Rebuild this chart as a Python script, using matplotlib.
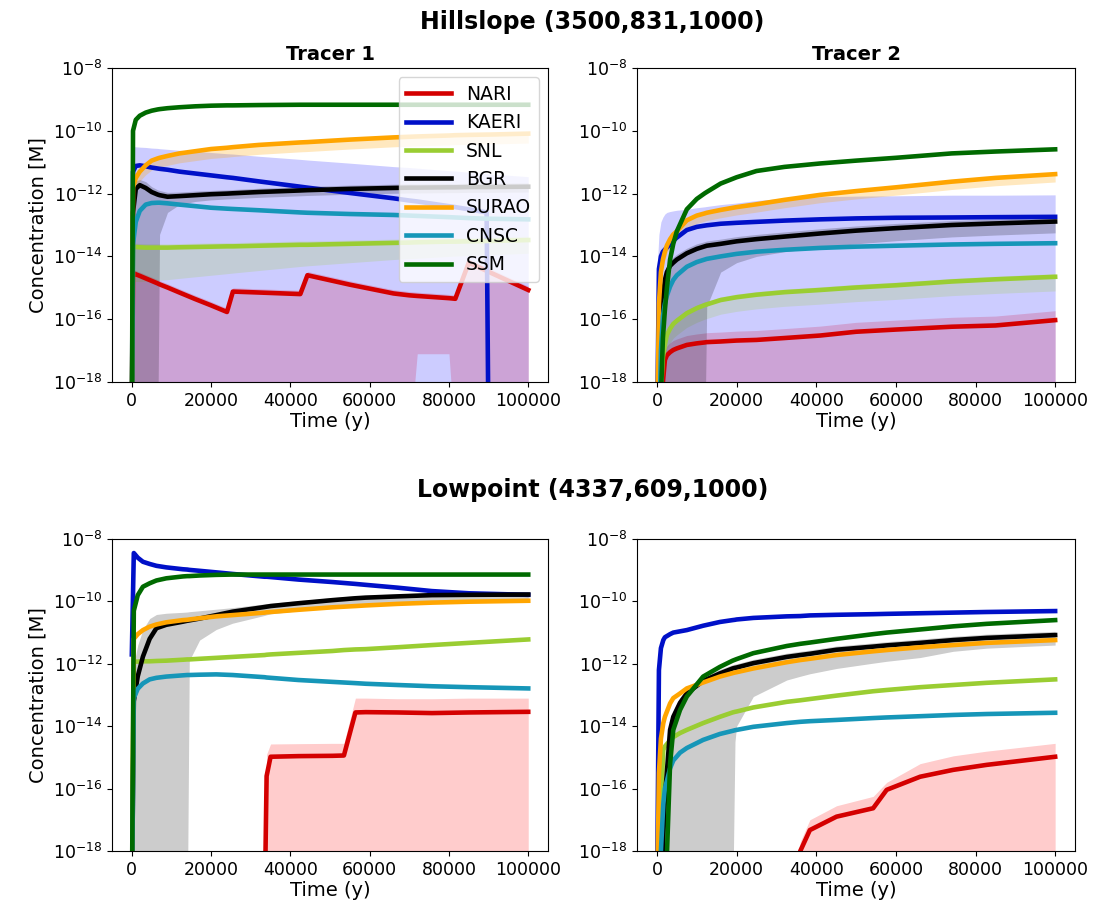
import numpy as np
import matplotlib.pyplot as plt
from matplotlib.ticker import NullLocator

# Reihenfolge wie in der Legende
SERIES = ["NARI", "KAERI", "SNL", "BGR", "SURAO", "CNSC", "SSM"]
COLORS = ["#d40000", "#0010c8", "yellowgreen", "black", "orange", "#1696b8", "#006a00"]
BAND_COLORS = ["red", "blue", "yellowgreen", "black", "orange", "#1696b8", "#006a00"]

# Werte als Exponenten (log10 der Konzentration in M), -20 = unterhalb der Achse
FLOOR = -20

# ---------------- Hillslope, Tracer 1 ----------------
hs1_t = [0, 300, 1000, 2000, 3500, 5000, 6500, 7000, 9000, 12000, 16000, 20000, 24000, 25500,
         32000, 42500, 44300, 55000, 66000, 70000, 72000, 80000, 81600, 85000, 89500, 90000, 100000]
hs1_nari = [-20, -14.53, -14.57, -14.62, -14.7, -14.78, -14.86, -14.89, -14.99, -15.15, -15.36, -15.56, -15.77, -15.12,
            -15.15, -15.2, -14.6, -14.9, -15.18, -15.24, -15.26, -15.33, -15.35, -14.2, -14.46, -14.49, -15.07]
hs1_nari_hi = [-14.41, -14.41, -14.45, -14.5, -14.58, -14.66, -14.74, -14.77, -14.87, -15.03, -15.24, -15.44, -15.65, -15.0,
               -15.03, -15.08, -14.48, -14.78, -15.06, -15.12, -15.14, -15.21, -15.23, -14.08, -14.34, -14.37, -14.95]
hs1_nari_lo = [-20, -20, -20, -20, -20, -20, -20, -20, -20, -20, -20, -20, -20, -20,
               -20, -20, -20, -20, -20, -20, -17.1, -17.1, -20, -20, -20, -20, -20]
hs1_kaeri = [-20, -11.3, -11.12, -11.1, -11.13, -11.17, -11.2, -11.21, -11.24, -11.3, -11.36, -11.42, -11.48, -11.5,
             -11.61, -11.78, -11.81, -11.98, -12.15, -12.22, -12.25, -12.4, -12.43, -12.5, -12.6, -20, -20]
hs1_kaeri_hi = [-10.5, -10.5, -10.51, -10.52, -10.53, -10.55, -10.56, -10.57, -10.59, -10.62, -10.65, -10.69, -10.73, -10.74,
                -10.81, -10.91, -10.93, -11.03, -11.14, -11.17, -11.19, -11.27, -11.28, -11.32, -11.36, -11.37, -11.46]
hs1_snl = [-20, -13.7, -13.7, -13.71, -13.72, -13.72, -13.72, -13.72, -13.72, -13.71, -13.7, -13.69, -13.68, -13.68,
           -13.66, -13.63, -13.63, -13.6, -13.57, -13.56, -13.55, -13.53, -13.53, -13.52, -13.51, -13.51, -13.48]
hs1_snl_hi = [-13.6, -13.58, -13.58, -13.59, -13.6, -13.6, -13.6, -13.6, -13.6, -13.59, -13.58, -13.57, -13.56, -13.56,
              -13.54, -13.51, -13.51, -13.48, -13.45, -13.44, -13.43, -13.41, -13.41, -13.4, -13.39, -13.39, -13.36]
hs1_snl_lo = [-14.8, -14.8, -14.8, -14.8, -14.79, -14.78, -14.77, -14.76, -14.74, -14.7, -14.65, -14.6, -14.55, -14.53,
              -14.45, -14.32, -14.3, -14.2, -14.1, -14.07, -14.06, -14.0, -13.99, -13.97, -13.95, -13.95, -13.9]
hs1_bgr = [-20, -12.6, -11.85, -11.73, -11.82, -11.95, -12.03, -12.05, -12.1, -12.08, -12.05, -12.02, -12.0, -11.99,
           -11.95, -11.9, -11.89, -11.85, -11.82, -11.81, -11.81, -11.8, -11.8, -11.79, -11.79, -11.79, -11.78]
hs1_bgr_hi = [-11.9, -11.7, -11.6, -11.55, -11.62, -11.78, -11.88, -11.9, -11.96, -11.95, -11.92, -11.9, -11.88, -11.87,
              -11.83, -11.78, -11.77, -11.73, -11.7, -11.69, -11.69, -11.68, -11.68, -11.67, -11.67, -11.67, -11.66]
hs1_bgr_lo = [-20, -20, -20, -20, -20, -20, -20, -13.3, -12.6, -12.35, -12.25, -12.2, -12.17, -12.16,
              -12.12, -12.07, -12.06, -12.02, -11.99, -11.98, -11.98, -11.97, -11.97, -11.96, -11.96, -11.96, -11.95]
hs1_surao = [-20, -11.8, -11.5, -11.3, -11.1, -10.95, -10.88, -10.86, -10.8, -10.72, -10.65, -10.58, -10.54, -10.52,
             -10.45, -10.37, -10.36, -10.28, -10.21, -10.19, -10.18, -10.15, -10.14, -10.13, -10.12, -10.12, -10.09]
hs1_surao_hi = [-20, -11.75, -11.45, -11.25, -11.05, -10.9, -10.83, -10.81, -10.75, -10.67, -10.6, -10.53, -10.49, -10.47,
                -10.4, -10.32, -10.31, -10.23, -10.16, -10.14, -10.13, -10.1, -10.09, -10.08, -10.07, -10.07, -10.04]
hs1_surao_lo = [-20, -12.1, -11.8, -11.6, -11.4, -11.25, -11.18, -11.16, -11.1, -11.02, -10.95, -10.88, -10.84, -10.82,
                -10.75, -10.67, -10.66, -10.58, -10.51, -10.49, -10.48, -10.45, -10.44, -10.43, -10.42, -10.42, -10.39]
hs1_cnsc = [-20, -13.6, -12.9, -12.55, -12.35, -12.3, -12.29, -12.29, -12.31, -12.35, -12.4, -12.45, -12.48, -12.49,
            -12.53, -12.6, -12.61, -12.65, -12.68, -12.7, -12.71, -12.75, -12.76, -12.78, -12.8, -12.8, -12.82]
hs1_ssm = [-20, -10.0, -9.65, -9.52, -9.42, -9.36, -9.32, -9.31, -9.28, -9.25, -9.22, -9.2, -9.19, -9.19,
           -9.18, -9.17, -9.17, -9.17, -9.17, -9.17, -9.17, -9.17, -9.17, -9.17, -9.17, -9.17, -9.17]

# ---------------- Hillslope, Tracer 2 ----------------
hs2_t = [0, 500, 1000, 1500, 2000, 2500, 3300, 4100, 5000, 7500, 10000, 12000, 12500, 16000,
         20000, 25000, 32000, 41000, 50000, 60000, 74000, 85000, 100000]
hs2_nari = [-20, -20, -20, -18.0, -17.3, -17.15, -17.05, -16.98, -16.93, -16.82, -16.77, -16.74, -16.73, -16.71,
            -16.68, -16.66, -16.6, -16.52, -16.4, -16.33, -16.24, -16.2, -16.03]
hs2_nari_hi = [-20, -20, -20, -17.7, -17.0, -16.85, -16.75, -16.68, -16.63, -16.52, -16.47, -16.44, -16.43, -16.41,
               -16.38, -16.36, -16.3, -16.22, -16.1, -16.03, -15.94, -15.9, -15.73]
hs2_kaeri = [-20, -14.4, -14.0, -13.85, -13.78, -13.72, -13.62, -13.5, -13.4, -13.16, -13.06, -13.02, -13.01, -12.96,
             -12.93, -12.9, -12.86, -12.82, -12.79, -12.77, -12.76, -12.75, -12.74]
hs2_kaeri_hi = [-14.5, -13.3, -12.9, -12.75, -12.65, -12.6, -12.57, -12.55, -12.53, -12.5, -12.45, -12.42, -12.41, -12.35,
                -12.3, -12.22, -12.15, -12.1, -12.08, -12.07, -12.05, -12.05, -12.04]
hs2_snl = [-20, -20, -18.3, -17.2, -16.8, -16.5, -16.3, -16.15, -16.05, -15.81, -15.65, -15.55, -15.53, -15.39,
           -15.3, -15.22, -15.14, -15.07, -14.99, -14.92, -14.8, -14.73, -14.65]
hs2_snl_hi = [-20, -20, -18.2, -17.1, -16.7, -16.4, -16.2, -16.05, -15.95, -15.71, -15.55, -15.45, -15.43, -15.29,
              -15.2, -15.12, -15.04, -14.97, -14.89, -14.82, -14.7, -14.63, -14.55]
hs2_snl_lo = [-20, -20, -18.75, -17.65, -17.25, -16.95, -16.75, -16.6, -16.5, -16.26, -16.1, -16.0, -15.98, -15.84,
              -15.75, -15.67, -15.59, -15.52, -15.44, -15.37, -15.25, -15.18, -15.1]
hs2_bgr = [-20, -20, -17.0, -15.3, -14.75, -14.5, -14.3, -14.2, -14.1, -13.9, -13.76, -13.68, -13.66, -13.6,
           -13.52, -13.45, -13.37, -13.27, -13.18, -13.1, -13.0, -12.95, -12.89]
hs2_bgr_hi = [-20, -20, -16.5, -14.9, -14.5, -14.3, -14.12, -14.02, -13.93, -13.74, -13.6, -13.53, -13.51, -13.45,
              -13.37, -13.3, -13.22, -13.12, -13.03, -12.95, -12.86, -12.81, -12.75]
hs2_bgr_lo = [-20, -20, -20, -20, -20, -20, -20, -20, -20, -20, -20, -20, -15.6, -14.5,
              -14.2, -14.0, -13.85, -13.72, -13.6, -13.5, -13.38, -13.32, -13.25]
hs2_surao = [-20, -15.5, -14.5, -14.1, -13.85, -13.65, -13.45, -13.3, -13.2, -12.85, -12.7, -12.63, -12.61, -12.52,
             -12.43, -12.34, -12.2, -12.04, -11.92, -11.8, -11.62, -11.5, -11.38]
hs2_surao_hi = [-20, -15.45, -14.45, -14.05, -13.8, -13.6, -13.4, -13.25, -13.15, -12.8, -12.65, -12.58, -12.56, -12.47,
                -12.38, -12.29, -12.15, -11.99, -11.87, -11.75, -11.57, -11.45, -11.33]
hs2_surao_lo = [-20, -15.75, -14.75, -14.35, -14.1, -13.9, -13.7, -13.55, -13.45, -13.1, -12.95, -12.88, -12.86, -12.77,
                -12.68, -12.59, -12.45, -12.29, -12.17, -12.05, -11.87, -11.75, -11.63]
hs2_cnsc = [-20, -20, -17.0, -15.9, -15.5, -15.25, -14.96, -14.75, -14.6, -14.33, -14.18, -14.1, -14.08, -14.0,
            -13.92, -13.85, -13.79, -13.73, -13.69, -13.66, -13.62, -13.6, -13.58]
hs2_ssm = [-20, -20, -18.5, -16.6, -15.7, -15.0, -14.1, -13.6, -13.2, -12.5, -12.17, -11.99, -11.95, -11.68,
           -11.48, -11.28, -11.15, -11.04, -10.95, -10.86, -10.72, -10.66, -10.59]

# ---------------- Lowpoint, Tracer 1 ----------------
lp1_t = [0, 500, 1500, 2800, 4500, 6200, 8700, 12900, 14000, 14500, 17100, 21300, 25400,
         33500, 34000, 35000, 42000, 50600, 53500, 56400, 59000, 67000, 75700, 85000, 100000]
lp1_nari = [-20, -20, -20, -20, -20, -20, -20, -20, -20, -20, -20, -20, -20,
            -20, -15.6, -14.98, -14.96, -14.95, -14.94, -13.56, -13.55, -13.56, -13.58, -13.56, -13.54]
lp1_nari_hi = [-20, -20, -20, -20, -20, -20, -20, -20, -20, -20, -20, -20, -20,
               -20, -14.9, -14.57, -14.56, -14.55, -14.55, -13.1, -13.1, -13.12, -13.12, -13.1, -13.1]
lp1_kaeri = [-11.7, -8.45, -8.6, -8.73, -8.8, -8.86, -8.91, -8.97, -8.98, -8.99, -9.02, -9.07, -9.12,
             -9.21, -9.21, -9.22, -9.3, -9.38, -9.41, -9.44, -9.47, -9.56, -9.67, -9.74, -9.79]
lp1_snl = [-20, -11.93, -11.93, -11.92, -11.92, -11.91, -11.9, -11.87, -11.86, -11.86, -11.84, -11.81, -11.78,
           -11.72, -11.71, -11.7, -11.65, -11.59, -11.56, -11.54, -11.53, -11.47, -11.4, -11.33, -11.22]
lp1_bgr = [-20, -13.2, -12.4, -11.77, -11.2, -10.86, -10.75, -10.65, -10.62, -10.61, -10.55, -10.44, -10.33,
           -10.18, -10.17, -10.15, -10.06, -9.96, -9.93, -9.9, -9.88, -9.84, -9.8, -9.79, -9.78]
lp1_bgr_hi = [-13.0, -12.0, -11.4, -10.9, -10.55, -10.42, -10.38, -10.35, -10.34, -10.33, -10.3, -10.25, -10.2,
              -10.08, -10.07, -10.06, -9.98, -9.88, -9.85, -9.82, -9.8, -9.76, -9.72, -9.71, -9.7]
lp1_bgr_lo = [-20, -20, -20, -20, -20, -20, -20, -20, -20, -11.9, -11.24, -10.9, -10.7,
              -10.45, -10.43, -10.4, -10.3, -10.18, -10.15, -10.12, -10.1, -10.05, -10.0, -9.99, -9.98]
lp1_surao = [-20, -11.2, -11.05, -10.92, -10.81, -10.74, -10.67, -10.6, -10.59, -10.58, -10.54, -10.48, -10.44,
             -10.36, -10.35, -10.34, -10.27, -10.19, -10.17, -10.15, -10.13, -10.08, -10.04, -10.01, -9.98]
lp1_cnsc = [-20, -13.1, -12.8, -12.63, -12.5, -12.45, -12.41, -12.37, -12.36, -12.36, -12.35, -12.34, -12.36,
            -12.43, -12.44, -12.45, -12.52, -12.58, -12.6, -12.62, -12.64, -12.68, -12.72, -12.75, -12.79]
lp1_ssm = [-20, -10.3, -9.8, -9.53, -9.42, -9.33, -9.26, -9.2, -9.19, -9.19, -9.17, -9.15, -9.14,
           -9.14, -9.14, -9.14, -9.14, -9.14, -9.14, -9.14, -9.14, -9.14, -9.14, -9.14, -9.14]

# ---------------- Lowpoint, Tracer 2 ----------------
lp2_t = [0, 500, 1000, 1600, 2000, 3300, 4100, 5800, 7500, 11600, 15800, 19000, 19600,
         20000, 24200, 32600, 36000, 38400, 45100, 54300, 57700, 66100, 74400, 82800, 100000]
lp2_nari = [-20, -20, -20, -20, -20, -20, -20, -20, -20, -20, -20, -20, -20,
            -20, -20, -20, -18.0, -17.33, -16.9, -16.63, -16.04, -15.62, -15.4, -15.24, -14.98]
lp2_nari_hi = [-20, -20, -20, -20, -20, -20, -20, -20, -20, -20, -20, -20, -20,
               -20, -20, -20, -17.7, -17.0, -16.55, -16.25, -15.8, -15.2, -14.95, -14.8, -14.55]
lp2_kaeri = [-20, -12.2, -11.5, -11.24, -11.15, -11.05, -11.0, -10.96, -10.92, -10.78, -10.66, -10.6, -10.59,
             -10.58, -10.53, -10.48, -10.47, -10.45, -10.43, -10.41, -10.4, -10.38, -10.36, -10.34, -10.31]
lp2_snl = [-20, -20, -16.5, -14.76, -14.65, -14.45, -14.35, -14.22, -14.12, -13.9, -13.7, -13.56, -13.54,
           -13.53, -13.4, -13.22, -13.17, -13.13, -13.02, -12.88, -12.84, -12.75, -12.68, -12.61, -12.5]
lp2_bgr = [-20, -20, -20, -17.5, -16.3, -14.12, -13.7, -13.25, -12.95, -12.55, -12.31, -12.15, -12.13,
           -12.12, -11.98, -11.78, -11.72, -11.68, -11.55, -11.45, -11.41, -11.33, -11.24, -11.17, -11.08]
lp2_bgr_hi = [-20, -20, -20, -20, -16.0, -13.9, -13.5, -13.08, -12.8, -12.42, -12.18, -12.03, -12.01,
              -12.0, -11.86, -11.66, -11.6, -11.56, -11.43, -11.33, -11.29, -11.21, -11.12, -11.05, -10.96]
lp2_bgr_lo = [-20, -20, -20, -20, -20, -20, -20, -20, -20, -20, -20, -20, -14.5,
              -14.0, -13.05, -12.52, -12.4, -12.32, -12.15, -11.98, -11.92, -11.8, -11.6, -11.5, -11.4]
lp2_surao = [-20, -15.5, -14.4, -13.9, -13.7, -13.27, -13.1, -12.95, -12.79, -12.6, -12.41, -12.3, -12.28,
             -12.27, -12.15, -11.95, -11.88, -11.84, -11.72, -11.6, -11.56, -11.47, -11.4, -11.33, -11.24]
lp2_cnsc = [-20, -20, -18.0, -16.5, -16.0, -15.35, -15.1, -14.85, -14.7, -14.44, -14.25, -14.15, -14.13,
            -14.12, -14.02, -13.9, -13.86, -13.84, -13.8, -13.74, -13.72, -13.68, -13.64, -13.61, -13.57]
lp2_ssm = [-20, -20, -20, -20, -20, -15.2, -14.12, -13.48, -13.05, -12.41, -12.1, -11.9, -11.87,
           -11.85, -11.66, -11.43, -11.36, -11.32, -11.2, -11.05, -11.0, -10.9, -10.8, -10.72, -10.6]

X_TICKS = [0, 20000, 40000, 60000, 80000, 100000]
Y_TICKS = [1e-18, 1e-16, 1e-14, 1e-12, 1e-10, 1e-8]


def conc(exps):
    # Exponent -> Konzentration
    return 10.0 ** np.array(exps, dtype=float)


def draw_panel(ax, t, lines, bands):
    t = np.array(t, dtype=float)
    color_of = dict(zip(SERIES, COLORS))
    band_color_of = dict(zip(SERIES, BAND_COLORS))

    # erst die Unsicherheitsbänder, dann die Linien drüber
    for name in SERIES:
        if name not in bands:
            continue
        lo, hi = bands[name]
        if lo is None:
            lo = [FLOOR] * len(t)
        alpha = 0.25 if name == "SURAO" else 0.2
        ax.fill_between(t, conc(lo), conc(hi), color=band_color_of[name],
                        alpha=alpha, linewidth=0, zorder=1)

    for name in SERIES:
        ax.plot(t, conc(lines[name]), color=color_of[name], linewidth=3.3,
                label=name, zorder=2)

    ax.set_yscale("log")
    ax.set_ylim(1e-18, 1e-8)
    ax.set_xlim(-5000, 105000)
    ax.set_yticks(Y_TICKS)
    ax.yaxis.set_minor_locator(NullLocator())
    ax.set_xticks(X_TICKS)
    ax.set_xticklabels([str(x) for x in X_TICKS])
    ax.tick_params(labelsize=12.5)
    ax.set_xlabel("Time (y)", fontsize=14, labelpad=2)


fig = plt.figure(figsize=(10.97, 9.08), dpi=100)

ax1 = fig.add_axes([0.1021, 0.5793, 0.3975, 0.3458])
ax2 = fig.add_axes([0.5807, 0.5793, 0.3993, 0.3458])
ax3 = fig.add_axes([0.1021, 0.0628, 0.3975, 0.3436])
ax4 = fig.add_axes([0.5807, 0.0628, 0.3993, 0.3436])

draw_panel(ax1, hs1_t,
           {"NARI": hs1_nari, "KAERI": hs1_kaeri, "SNL": hs1_snl, "BGR": hs1_bgr,
            "SURAO": hs1_surao, "CNSC": hs1_cnsc, "SSM": hs1_ssm},
           {"NARI": (hs1_nari_lo, hs1_nari_hi), "KAERI": (None, hs1_kaeri_hi),
            "SNL": (hs1_snl_lo, hs1_snl_hi), "BGR": (hs1_bgr_lo, hs1_bgr_hi),
            "SURAO": (hs1_surao_lo, hs1_surao_hi)})
draw_panel(ax2, hs2_t,
           {"NARI": hs2_nari, "KAERI": hs2_kaeri, "SNL": hs2_snl, "BGR": hs2_bgr,
            "SURAO": hs2_surao, "CNSC": hs2_cnsc, "SSM": hs2_ssm},
           {"NARI": (None, hs2_nari_hi), "KAERI": (None, hs2_kaeri_hi),
            "SNL": (hs2_snl_lo, hs2_snl_hi), "BGR": (hs2_bgr_lo, hs2_bgr_hi),
            "SURAO": (hs2_surao_lo, hs2_surao_hi)})
draw_panel(ax3, lp1_t,
           {"NARI": lp1_nari, "KAERI": lp1_kaeri, "SNL": lp1_snl, "BGR": lp1_bgr,
            "SURAO": lp1_surao, "CNSC": lp1_cnsc, "SSM": lp1_ssm},
           {"NARI": (None, lp1_nari_hi), "BGR": (lp1_bgr_lo, lp1_bgr_hi)})
draw_panel(ax4, lp2_t,
           {"NARI": lp2_nari, "KAERI": lp2_kaeri, "SNL": lp2_snl, "BGR": lp2_bgr,
            "SURAO": lp2_surao, "CNSC": lp2_cnsc, "SSM": lp2_ssm},
           {"NARI": (None, lp2_nari_hi), "BGR": (lp2_bgr_lo, lp2_bgr_hi)})

ax1.set_title("Tracer 1", fontsize=14, fontweight="bold")
ax2.set_title("Tracer 2", fontsize=14, fontweight="bold")
ax1.set_ylabel("Concentration [M]", fontsize=14)
ax3.set_ylabel("Concentration [M]", fontsize=14)

ax1.legend(loc="upper right", fontsize=13.5, handlelength=2.4)

fig.text(0.54, 1 - 22.5 / 908, "Hillslope (3500,831,1000)", ha="center", va="center",
         fontsize=17, fontweight="bold")
fig.text(0.54, 1 - 490 / 908, "Lowpoint (4337,609,1000)", ha="center", va="center",
         fontsize=17, fontweight="bold")

plt.savefig("out.png", dpi=100)
plt.close()
